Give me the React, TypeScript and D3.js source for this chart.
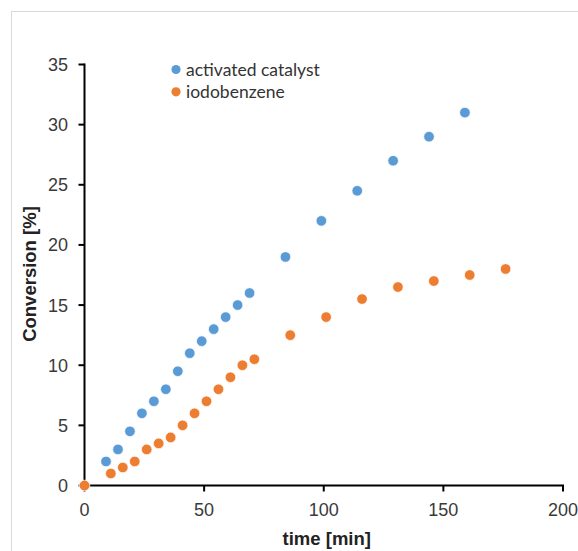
import React from "react";
import * as d3 from "d3";

const blueTime = [9, 14, 19, 24, 29, 34, 39, 44, 49, 54, 59, 64, 69, 84, 99, 114, 129, 144, 159];
const blueConv = [2, 3, 4.5, 6, 7, 8, 9.5, 11, 12, 13, 14, 15, 16, 19, 22, 24.5, 27, 29, 31];
const orangeTime = [0, 11, 16, 21, 26, 31, 36, 41, 46, 51, 56, 61, 66, 71, 86, 101, 116, 131, 146, 161, 176];
const orangeConv = [0, 1, 1.5, 2, 3, 3.5, 4, 5, 6, 7, 8, 9, 10, 10.5, 12.5, 14, 15.5, 16.5, 17, 17.5, 18];
const xTicks = [0, 50, 100, 150, 200];
const yTicks = [0, 5, 10, 15, 20, 25, 30, 35];
const seriesNames = ["activated catalyst", "iodobenzene"];
const colors = ["#5B9BD5", "#ED7D31"];

export default function App() {
  const W = 578, H = 551;
  const x = d3.scaleLinear().domain([0, 200]).range([84.5, 563]);
  const y = d3.scaleLinear().domain([0, 35]).range([485.5, 64.5]);
  const series = [
    { name: seriesNames[0], color: colors[0], t: blueTime, v: blueConv },
    { name: seriesNames[1], color: colors[1], t: orangeTime, v: orangeConv },
  ];
  const tickFont = "'Liberation Sans', Arial, sans-serif";
  return (
    <svg width={W} height={H} style={{ position: "absolute", left: 0, top: 0 }}>
      <rect x={0} y={0} width={W} height={H} fill="#fff" />
      <rect x={11.5} y={11.5} width={700} height={700} fill="none" stroke="#d9d9d9" strokeWidth={1} />
      {/* axes */}
      <line x1={x(0)} x2={x(0)} y1={y(35) - 1} y2={y(0) + 1} stroke="#000" strokeWidth={2} />
      <line x1={x(0) - 1} x2={x(200) + 1} y1={y(0)} y2={y(0)} stroke="#000" strokeWidth={2} />
      {yTicks.map((t) => (
        <g key={"y" + t}>
          <line x1={x(0) - 6} x2={x(0)} y1={y(t)} y2={y(t)} stroke="#000" strokeWidth={2} />
          <text x={x(0) - 16.5} y={y(t)} dy="0.36em" textAnchor="end" fontFamily={tickFont} fontSize={18} fill="#3a3a3a">
            {t}
          </text>
        </g>
      ))}
      {xTicks.map((t) => (
        <g key={"x" + t}>
          <line x1={x(t)} x2={x(t)} y1={y(0)} y2={y(0) + 6} stroke="#000" strokeWidth={2} />
          <text x={x(t)} y={516} textAnchor="middle" fontFamily={tickFont} fontSize={18} fill="#3a3a3a">
            {t}
          </text>
        </g>
      ))}
      <text x={(x(0) + x(200)) / 2 + 3} y={545} textAnchor="middle" fontFamily={tickFont} fontWeight="bold" fontSize={18.5} fill="#222">
        time [min]
      </text>
      <text
        transform={`translate(35.5, ${(y(0) + y(35)) / 2 - 1}) rotate(-90)`}
        textAnchor="middle"
        fontFamily={tickFont}
        fontWeight="bold"
        fontSize={18.5}
        fill="#222"
      >
        Conversion [%]
      </text>
      {/* points */}
      {series.map((s) => (
        <g key={s.name}>
          {s.t.map((t, i) => (
            <circle key={i} cx={x(t)} cy={y(s.v[i])} r={5.3} fill={s.color} stroke="#fff" strokeWidth={0.75} />
          ))}
        </g>
      ))}
      {/* legend */}
      {series.map((s, i) => (
        <g key={"l" + i} transform={`translate(176, ${69.5 + i * 22.3})`}>
          <circle cx={0} cy={0} r={4.6} fill={s.color} />
          <text x={10} y={0} dy="0.35em" fontFamily="Lato, 'Open Sans', sans-serif" fontSize={17.5} fill="#333">
            {s.name}
          </text>
        </g>
      ))}
    </svg>
  );
}
